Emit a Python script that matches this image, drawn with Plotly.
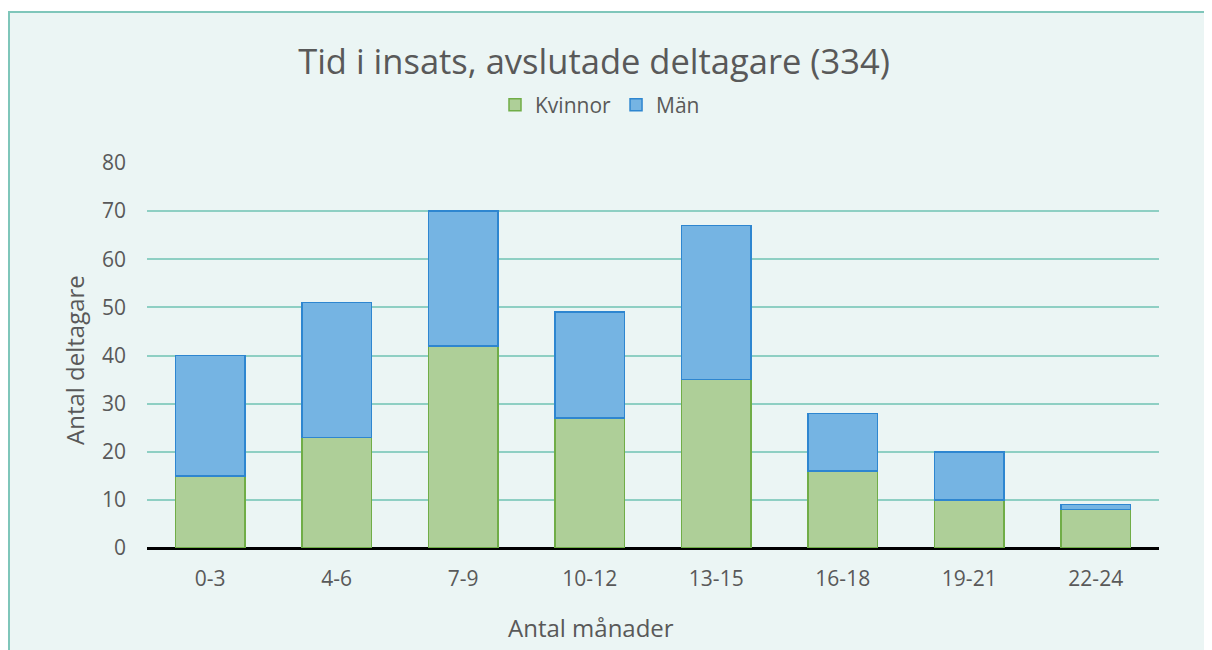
import plotly.graph_objects as go

categories = ["0-3", "4-6", "7-9", "10-12", "13-15", "16-18", "19-21", "22-24"]
kvinnor = [15, 23, 42, 27, 35, 16, 10, 8]
man = [25, 28, 28, 22, 32, 12, 10, 1]
y_ticks = [0, 10, 20, 30, 40, 50, 60, 70, 80]

OFF = 8  # page body margin
W, H = 1212 - OFF, 650 - OFF
L, T = 147 - OFF, 163 - OFF
R = W - (1159 - OFF)
B = H - (548 - OFF)
pw, ph = W - L - R, H - T - B
BOT = T + ph  # plot bottom in px


def px_x(x):
    return (x - OFF - L) / pw


def px_y(y):
    return (BOT - (y - OFF)) / ph


FONT = "Open Sans"
TXT = "#595959"

fig = go.Figure()
fig.add_trace(go.Bar(
    x=categories, y=kvinnor, name="Kvinnor",
    marker=dict(color="#AECF98", line=dict(color="#70AD47", width=1.5)),
))
fig.add_trace(go.Bar(
    x=categories, y=man, name="Män",
    marker=dict(color="#75B4E3", line=dict(color="#2E86D0", width=1.5)),
))

# panel background with border
fig.add_shape(
    type="rect", xref="paper", yref="paper", layer="below",
    x0=px_x(9), x1=px_x(1240), y0=px_y(680), y1=px_y(12),
    fillcolor="#EBF5F4", line=dict(color="#7FC6BA", width=2),
)

fig.update_layout(
    width=W, height=H,
    margin=dict(l=L, r=R, t=T, b=B, autoexpand=False),
    paper_bgcolor="white",
    plot_bgcolor="rgba(0,0,0,0)",
    barmode="stack",
    bargap=0.45,
    font=dict(family=FONT, color=TXT, size=21),
    title=dict(
        text="Tid i insats, avslutade deltagare (334)",
        x=(594 - OFF) / W, xref="container", xanchor="center",
        y=1 - (62 - OFF) / H, yref="container", yanchor="middle",
        font=dict(size=34.5, color=TXT, family=FONT),
    ),
    legend=dict(
        orientation="h", xref="container", yref="container",
        x=(600 - OFF) / W, xanchor="center", y=1 - (105 - OFF) / H, yanchor="middle",
        font=dict(size=21, color=TXT), bgcolor="rgba(0,0,0,0)",
        traceorder="normal", itemwidth=30,
    ),
    xaxis=dict(
        type="category", showgrid=False, ticks="", ticklabelstandoff=16,
        tickfont=dict(size=21, color=TXT), showline=False,
    ),
    yaxis=dict(
        range=[0, 80], tickvals=y_ticks, showgrid=True,
        gridcolor="#8ECFC3", gridwidth=1.5,
        zeroline=True, zerolinecolor="black", zerolinewidth=2.5,
        ticks="", ticklabelstandoff=20,
        tickfont=dict(size=21, color=TXT), showline=False,
    ),
    annotations=[
        dict(text="Antal deltagare", textangle=-90, xref="paper", yref="paper",
             x=px_x(74), y=px_y(360), xanchor="center", yanchor="middle",
             showarrow=False, font=dict(size=24, color=TXT)),
        dict(text="Antal månader", xref="paper", yref="paper",
             x=px_x(591), y=px_y(627), xanchor="center", yanchor="middle",
             showarrow=False, font=dict(size=24, color=TXT)),
    ],
)

fig.write_html("out.html")
